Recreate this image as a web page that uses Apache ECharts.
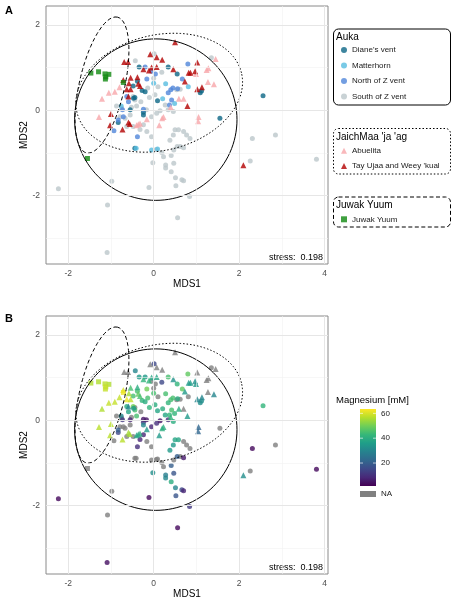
<!DOCTYPE html>
<html><head><meta charset="utf-8">
<script src="https://cdn.jsdelivr.net/npm/echarts@6/dist/echarts.min.js"></script>
<style>html,body{margin:0;padding:0;background:#fff}#c{width:458px;height:600px}</style>
</head><body><div id="c"></div>
<script>
// ---- data: [MDS1, MDS2, Magnesium mM (null = NA)] ----
const dianesVent = [[2.56,0.34,42],[1.55,-0.19,null],[0.34,1.01,45],[0.55,0.85,42],[1.09,0.41,32],[1.12,0.45,32],
 [-0.34,1.01,35],[-0.38,0.68,45],[-0.48,0.57,45],[-0.27,0.46,42],[-0.2,0.43,40],[0.09,0.22,38],[-0.24,-0.05,12],
 [-0.24,-0.11,30],[-0.55,0.01,8],[-0.83,-0.29,15],[-0.44,-0.89,null],[-0.47,0.28,35],[-0.44,0.3,null]];
const matterhorn = [[0.28,0.62,45],[0.21,0.27,40],[0.81,0.55,null],[0.49,0.16,42],[-0.41,-0.89,null],[-0.05,-0.93,null],
 [0.09,-0.91,null],[-0.76,0.1,30],[0.0,0.63,45]];
const northOfZ = [[0.8,1.08,48],[-0.2,1.01,35],[-0.05,0.91,null],[0.04,0.85,null],[0.67,0.73,48],[-0.16,0.73,50],
 [0.45,0.52,45],[0.4,0.48,45],[0.34,0.41,42],[0.56,0.5,40],[0.42,0.24,45],[0.37,0.12,42],[-0.63,0.32,40],[-0.59,0.2,38],
 [-0.73,0.01,12],[-0.71,-0.15,null],[-0.83,-0.23,20],[-0.93,-0.48,null],[-0.38,-0.62,10],[-0.24,0.02,5]];
const southOfZ = [[1.35,1.23,null],[0.01,1.32,15],[-0.43,1.16,30],[0.19,0.89,15],[0.0,0.75,null],[-0.14,0.52,45],
 [0.03,0.36,40],[-0.48,0.32,50],[-0.44,0.24,45],[-0.4,0.1,45],[-0.52,0.07,null],[-0.87,0.1,null],[-0.75,0.05,null],
 [-0.17,0.01,5],[-0.05,-0.15,8],[0.07,-0.07,10],[0.15,-0.01,5],[0.27,0.12,38],[0.34,0.01,10],[0.46,-0.03,40],
 [-0.79,-0.15,null],[-0.67,-0.19,null],[-0.55,-0.11,null],[-0.63,-0.38,null],[-0.48,-0.38,null],[-0.32,-0.45,8],
 [-0.16,-0.5,null],[-0.24,-0.34,8],[-0.05,-0.62,null],[0.46,-0.58,35],[0.5,-0.46,38],[0.58,-0.46,38],[0.7,-0.5,null],
 [0.77,-0.58,null],[0.85,-0.66,null],[0.38,-0.7,35],[0.62,-0.85,null],[2.31,-0.66,3],[2.85,-0.58,null],[3.81,-1.15,3],
 [0.19,-0.99,null],[0.23,-1.09,null],[0.41,-1.06,20],[-0.02,-1.23,32],[0.28,-1.28,28],[0.28,-1.35,30],[0.47,-1.24,18],
 [0.41,-1.44,40],[0.51,-1.58,30],[0.66,-1.63,15],[0.7,-1.65,8],[0.52,-1.77,18],[-0.11,-1.81,3],[0.84,-2.02,12],
 [-0.98,-1.66,null],[-2.23,-1.84,3],[-1.08,-2.22,null],[0.56,-2.52,3],[-1.09,-3.33,4],[2.26,-1.19,null],[0.7,-0.88,6],
 [0.55,-0.85,20],[0.06,-0.92,null],[0.47,-0.93,null],[-0.3,0.2,null],[-0.1,0.3,42],[0.1,0.55,null],[0.54,0.48,null],
 [0.62,0.49,null]];
const abuelita = [[1.45,1.2,null],[1.28,0.98,null],[1.24,0.94,null],[0.99,0.85,35],[1.27,0.66,null],[1.41,0.61,30],
 [-0.91,0.43,58],[-0.8,0.54,58],[-1.05,0.41,58],[-1.21,0.27,56],[0.7,0.27,null],[0.59,0.27,40],[0.4,0.07,42],
 [-1.28,-0.16,57],[1.05,-0.16,22],[1.04,-0.26,22],[0.13,-0.35,35],[-0.16,-0.21,35],[-0.4,-0.35,38],[-0.36,-0.33,38],
 [-0.32,-0.31,40],[0.23,-0.16,40],[0.2,-0.19,40]];
const tayUjaa = [[0.5,1.59,null],[-0.08,1.31,null],[0.07,1.24,null],[0.2,1.18,null],[-0.69,1.13,null],[-0.6,1.13,null],
 [1.02,1.12,null],[-0.24,0.96,42],[-0.05,1.0,38],[0.07,1.01,38],[-0.11,0.93,42],[0.46,0.96,33],[0.82,0.88,35],
 [0.86,0.88,36],[0.97,0.91,33],[-0.71,0.71,60],[-0.54,0.76,45],[-0.38,0.77,40],[0.73,0.67,35],[-0.58,0.63,55],
 [-0.36,0.62,48],[-0.32,0.57,45],[-0.63,0.49,62],[-0.54,0.49,58],[1.13,0.54,30],[1.02,0.49,30],[-0.59,0.32,30],
 [0.79,0.1,35],[-1.0,-0.09,57],[-1.02,-0.35,57],[-0.73,-0.45,57],[-0.59,-0.29,55],[-0.56,-0.32,55],[2.1,-1.29,32]];
const juwakYuum = [[-1.47,0.87,56],[-1.29,0.9,56],[-1.14,0.85,57],[-1.04,0.84,56],[-1.13,0.73,58],[-1.12,0.78,58],
 [-0.71,0.65,62],[-1.55,-1.13,null]];

const xTicks = [-2, 0, 2, 4];
const yTicks = [-2, 0, 2];
const xMinor = [-1, 1, 3];
const yMinor = [-3, -1, 1];
// ellipse parameters: [cx, cy, semi-axis a, semi-axis b, rotation deg]
const ellipseAuka = [0.05, -0.22, 1.9, 1.89, 0];
const ellipseJaich = [0.13, 0.41, 1.98, 1.35, 13.6];
const ellipseJuwak = [-1.21, 0.59, 1.63, 0.53, 77.2];
const mgTicks = [20, 40, 60];
const mgRange = [1.5, 63.5];
const stressText = 'stress:  0.198';

const FF = '"Liberation Sans", Arial, Helvetica, sans-serif';
const viridis = ['#440154','#482878','#3e4989','#31688e','#26828e','#1f9e89','#35b779','#6ece58','#b5de2b','#fde725'];

const groups = [
  {name:'South of Z vent', data:southOfZ, symbol:'circle', size:5, color:'#bcc7cb'},
  {name:"Diane's vent", data:dianesVent, symbol:'circle', size:5, color:'#0c6786'},
  {name:'Matterhorn', data:matterhorn, symbol:'circle', size:5, color:'#58bde0'},
  {name:'North of Z vent', data:northOfZ, symbol:'circle', size:5, color:'#5086da'},
  {name:'Abuelita', data:abuelita, symbol:'triangle', size:6, color:'#f8a6aa'},
  {name:"Tay Ujaa and Weey 'kual", data:tayUjaa, symbol:'triangle', size:6, color:'#b30000'},
  {name:'Juwak Yuum', data:juwakYuum, symbol:'rect', size:5, color:'#108a10'}
];

function ellipsePts(e) {
  const [cx, cy, a, b, deg] = e, th = deg * Math.PI / 180, pts = [];
  for (let i = 0; i <= 120; i++) {
    const t = i / 120 * 2 * Math.PI;
    pts.push([cx + a*Math.cos(t)*Math.cos(th) - b*Math.sin(t)*Math.sin(th),
              cy + a*Math.cos(t)*Math.sin(th) + b*Math.sin(t)*Math.cos(th)]);
  }
  return pts;
}

const grids = [
  {left:46, top:6, width:282, height:258},
  {left:46, top:316, width:282, height:258}
].map(g => Object.assign(g, {show:true, borderColor:'#8a8a8a', borderWidth:1, backgroundColor:'#fff'}));

const xAxes = [0,1].map(p => ({
  gridIndex:p, type:'value', min:-2.52, max:4.08, splitLine:{show:false}, axisLine:{show:false},
  axisTick:{show:true, customValues:xTicks, length:3, lineStyle:{color:'#333', width:0.8}},
  axisLabel:{customValues:xTicks, color:'#4d4d4d', fontSize:8.5, margin:5, fontFamily:FF},
  name:'MDS1', nameLocation:'middle', nameGap:13, nameTextStyle:{fontSize:10, color:'#000', fontFamily:FF}
}));
const yAxes = [0,1].map(p => ({
  gridIndex:p, type:'value', min:-3.6, max:2.44, splitLine:{show:false}, axisLine:{show:false},
  axisTick:{show:true, customValues:yTicks, length:3, lineStyle:{color:'#333', width:0.8}},
  axisLabel:{customValues:yTicks, color:'#4d4d4d', fontSize:8.5, margin:6, fontFamily:FF},
  name:'MDS2', nameLocation:'middle', nameGap:17, nameMoveOverlap:false, nameRotate:90,
  nameTextStyle:{fontSize:10, color:'#000', fontFamily:FF}
}));

const series = [];
[0,1].forEach(p => {
  const major = {color:'#e6e6e6', width:1, type:'solid'};
  const minor = {color:'#f1f1f1', width:0.6, type:'solid'};
  series.push({type:'scatter', xAxisIndex:p, yAxisIndex:p, data:[], silent:true, z:1,
    markLine:{silent:true, symbol:['none','none'], animation:false, label:{show:false}, lineStyle:major,
      data:[].concat(xMinor.map(v=>({xAxis:v, lineStyle:minor})), yMinor.map(v=>({yAxis:v, lineStyle:minor})),
                     xTicks.map(v=>({xAxis:v})), yTicks.map(v=>({yAxis:v})))}});
});
groups.forEach(g => {
  series.push({name:g.name, type:'scatter', xAxisIndex:0, yAxisIndex:0, symbol:g.symbol, symbolSize:g.size,
    itemStyle:{color:g.color}, data:g.data.map(d=>[d[0], d[1]]), z:2});
});
const bIdx = [];
groups.forEach(g => {
  series.push({name:'NA ' + g.name, type:'scatter', xAxisIndex:1, yAxisIndex:1, symbol:g.symbol, symbolSize:g.size,
    itemStyle:{color:'#808080'}, data:g.data.filter(d=>d[2]===null).map(d=>[d[0], d[1]]), z:2});
});
groups.forEach(g => {
  bIdx.push(series.length);
  series.push({name:'Mg ' + g.name, type:'scatter', xAxisIndex:1, yAxisIndex:1, symbol:g.symbol, symbolSize:g.size,
    data:g.data.filter(d=>d[2]!==null), z:2});
});
[0,1].forEach(p => {
  [[ellipseAuka,'solid'],[ellipseJaich,[1.5,2]],[ellipseJuwak,[4,2.5]]].forEach(([e, dash]) => {
    series.push({type:'line', xAxisIndex:p, yAxisIndex:p, data:ellipsePts(e), showSymbol:false, symbol:'none',
      silent:true, z:3, lineStyle:{color:'#000', width:1, type:dash}});
  });
});

const legendBase = {orient:'vertical', left:341, itemWidth:6, itemHeight:6, padding:0, selectedMode:false,
  textStyle:{fontSize:8, lineHeight:10, color:'#1a1a1a', fontFamily:FF}};
const legends = [
  Object.assign({}, legendBase, {top:45, itemGap:5.5, data:["Diane's vent",'Matterhorn','North of Z vent','South of Z vent']}),
  Object.assign({}, legendBase, {top:145.7, itemGap:5.3, data:['Abuelita',"Tay Ujaa and Weey 'kual"]}),
  Object.assign({}, legendBase, {top:214.3, data:['Juwak Yuum']})
];

// colour bar geometry
const cbX = 360, cbTop = 409, cbBot = 486, cbW = 16;
const mgY = v => cbBot - (v - mgRange[0]) / (mgRange[1] - mgRange[0]) * (cbBot - cbTop);
const graphic = [
  {type:'text', left:5, top:5, style:{text:'A', font:'bold 11px ' + FF, fill:'#000'}},
  {type:'text', left:5, top:313, style:{text:'B', font:'bold 11px ' + FF, fill:'#000'}},
  {type:'text', x:323, y:258, style:{text:stressText, font:'9px ' + FF, fill:'#000', align:'right', verticalAlign:'middle'}},
  {type:'text', x:323, y:568, style:{text:stressText, font:'9px ' + FF, fill:'#000', align:'right', verticalAlign:'middle'}},
  {type:'rect', shape:{x:333.5, y:29, width:117, height:76, r:5}, style:{fill:'none', stroke:'#000', lineWidth:1}},
  {type:'rect', shape:{x:333.5, y:128.5, width:117, height:45.5, r:5}, style:{fill:'none', stroke:'#000', lineWidth:1, lineDash:[1.5,2]}},
  {type:'rect', shape:{x:333.5, y:197, width:117, height:30, r:5}, style:{fill:'none', stroke:'#000', lineWidth:1, lineDash:[4,2.5]}},
  {type:'text', x:336, y:37, style:{text:'Auka', font:'10px ' + FF, fill:'#000', verticalAlign:'middle'}},
  {type:'text', x:336, y:137.5, style:{text:"JaichMaa 'ja 'ag", font:'10px ' + FF, fill:'#000', verticalAlign:'middle'}},
  {type:'text', x:336, y:205.5, style:{text:'Juwak Yuum', font:'10px ' + FF, fill:'#000', verticalAlign:'middle'}},
  {type:'text', x:336, y:400, style:{text:'Magnesium [mM]', font:'9.5px ' + FF, fill:'#000', verticalAlign:'middle'}},
  {type:'rect', shape:{x:cbX, y:cbTop, width:cbW, height:cbBot - cbTop},
    style:{fill:new echarts.graphic.LinearGradient(0, 1, 0, 0, viridis.map((c, i) => ({offset:i/(viridis.length-1), color:c})))}},
  {type:'rect', shape:{x:cbX, y:491, width:cbW, height:6}, style:{fill:'#808080'}},
  {type:'text', x:381, y:494, style:{text:'NA', font:'8px ' + FF, fill:'#1a1a1a', verticalAlign:'middle'}}
];
mgTicks.forEach(v => {
  const y = mgY(v);
  graphic.push({type:'text', x:381, y:y, style:{text:String(v), font:'8px ' + FF, fill:'#1a1a1a', verticalAlign:'middle'}});
  graphic.push({type:'line', shape:{x1:cbX, y1:y, x2:cbX+3, y2:y}, style:{stroke:'rgba(255,255,255,0.8)', lineWidth:0.8}});
  graphic.push({type:'line', shape:{x1:cbX+cbW-3, y1:y, x2:cbX+cbW, y2:y}, style:{stroke:'rgba(255,255,255,0.8)', lineWidth:0.8}});
});

const chart = echarts.init(document.getElementById('c'), null, {renderer:'canvas'});
chart.setOption({
  animation:false,
  backgroundColor:'#fff',
  grid:grids, xAxis:xAxes, yAxis:yAxes,
  legend:legends,
  visualMap:{show:false, type:'continuous', min:mgRange[0], max:mgRange[1], dimension:2, seriesIndex:bIdx,
    inRange:{color:viridis}},
  series:series,
  graphic:graphic
});
</script></body></html>
